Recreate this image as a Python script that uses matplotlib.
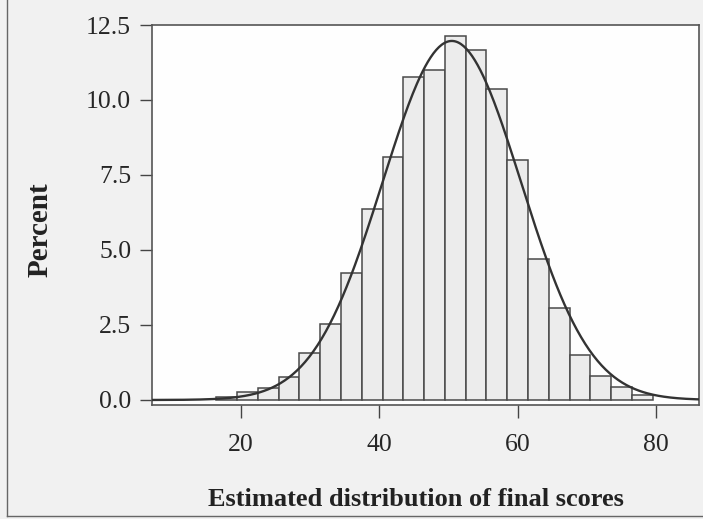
import numpy as np
import matplotlib
matplotlib.use("Agg")
import matplotlib.pyplot as plt
from matplotlib.lines import Line2D

# histogram of estimated final scores (percent per 3-point bin)
bin_centers = [18, 21, 24, 27, 30, 33, 36, 39, 42, 45, 48,
               51, 54, 57, 60, 63, 66, 69, 72, 75, 78]
percents = [0.1, 0.25, 0.41, 0.75, 1.56, 2.52, 4.22, 6.37, 8.11, 10.76, 11.0,
            12.12, 11.65, 10.37, 8.0, 4.69, 3.06, 1.5, 0.81, 0.43, 0.17]
bin_width = 3

# fitted normal curve
mu = 50.5
sigma = 10.0

x_ticks = [20, 40, 60, 80]
y_ticks = [0.0, 2.5, 5.0, 7.5, 10.0, 12.5]

plt.rcParams["font.family"] = ["Liberation Serif", "DejaVu Serif"]

fig = plt.figure(figsize=(7.03, 5.19), dpi=100, facecolor="#f1f1f1")
ax = fig.add_axes([152 / 703, 1 - 405 / 519, (699 - 152) / 703, (405 - 25) / 519])
ax.set_facecolor("#fefefe")

ax.bar(bin_centers, percents, width=bin_width, align="center",
       facecolor="#ececec", edgecolor="#4a4a4a", linewidth=1.1, zorder=2)

xs = np.linspace(7.0, 86.5, 400)
curve = bin_width * 100 / (sigma * np.sqrt(2 * np.pi)) * np.exp(-0.5 * ((xs - mu) / sigma) ** 2)
ax.plot(xs, curve, color="#333333", linewidth=1.7, zorder=3)

ax.set_xlim(7.2, 86.2)
ax.set_ylim(-0.167, 12.5)
ax.set_xticks(x_ticks)
ax.set_xticklabels([str(t) for t in x_ticks])
ax.set_yticks(y_ticks)
ax.set_yticklabels(["%.1f" % t for t in y_ticks])

ax.tick_params(axis="y", direction="out", length=9, width=1.0, color="#444444",
               pad=6, labelsize=18.5, labelcolor="#262626")
ax.tick_params(axis="x", direction="out", length=9, width=1.0, color="#444444",
               pad=12, labelsize=18.5, labelcolor="#262626")
for s in ax.spines.values():
    s.set_color("#555555")
    s.set_linewidth(1.2)

fig.text(416 / 703, 1 - 499 / 519, "Estimated distribution of final scores",
         ha="center", va="center", fontsize=19, fontweight="bold", color="#222222")
fig.text(40 / 703, 1 - 230 / 519, "Percent", rotation=90,
         ha="center", va="center", fontsize=21, fontweight="bold", color="#222222")

# scanned page frame
fig.add_artist(Line2D([7 / 703, 7 / 703], [3 / 519, 1.0], transform=fig.transFigure,
                      color="#666666", linewidth=1.0))
fig.add_artist(Line2D([7 / 703, 1.0], [3 / 519, 3 / 519], transform=fig.transFigure,
                      color="#666666", linewidth=1.0))

fig.savefig("out.png", dpi=100, facecolor=fig.get_facecolor())
